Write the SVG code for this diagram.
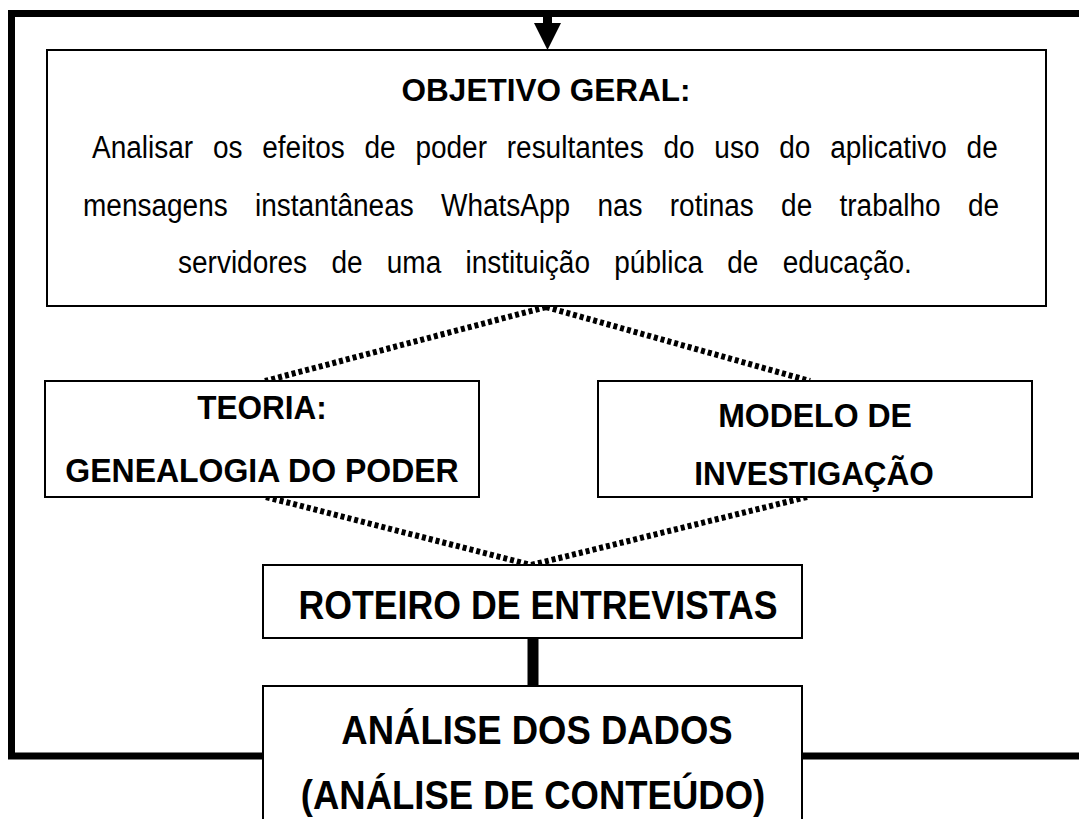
<svg xmlns="http://www.w3.org/2000/svg" width="1079" height="819" viewBox="0 0 1079 819">
<defs>
<style>
.box{fill:#fff;stroke:#000;stroke-width:2}
.b{font-family:"Liberation Sans",Arial,sans-serif;font-weight:bold;fill:#000;text-anchor:middle}
.r{font-family:"Liberation Sans",Arial,sans-serif;fill:#000;font-size:28px}
.dot{fill:none;stroke:#000;stroke-width:6;stroke-dasharray:4 3}
.thick{fill:none;stroke:#000}
</style>
</defs>
<rect width="1079" height="819" fill="#fff"/>
<g id="connectors">
<polyline class="thick" stroke-width="7" points="1079,13.5 11.5,13.5 11.5,756 1079,756"/>
<line class="thick" x1="547.5" y1="13" x2="547.5" y2="26" stroke-width="9"/>
<polygon points="534,23 561,23 547.5,50" fill="#000"/>
<line class="dot" x1="546" y1="307" x2="265" y2="381"/>
<line class="dot" x1="546" y1="307" x2="810" y2="381"/>
<line class="dot" x1="266" y1="497" x2="531" y2="565"/>
<line class="dot" x1="807" y1="497" x2="531" y2="565"/>
<line class="thick" x1="533" y1="638" x2="533" y2="686" stroke-width="11"/>
</g>
<g id="objetivo">
<rect class="box" x="47" y="50" width="999" height="256"/>
<text class="b" x="546" y="101" font-size="31.5">OBJETIVO GERAL:</text>
<text class="r" transform="translate(92,158) scale(1,1.1)" word-spacing="12">Analisar os efeitos de poder resultantes do uso do aplicativo de</text>
<text class="r" transform="translate(83,216) scale(1,1.1)" word-spacing="19.5">mensagens instantâneas WhatsApp nas rotinas de trabalho de</text>
<text class="r" transform="translate(178,273) scale(1,1.1)" word-spacing="16.5">servidores de uma instituição pública de educação.</text>
</g>
<g id="teoria">
<rect class="box" x="45" y="381" width="434" height="116"/>
<text class="b" transform="translate(262,419) scale(1,1.05)" font-size="31.5">TEORIA:</text>
<text class="b" transform="translate(262,482) scale(1,1.05)" font-size="32">GENEALOGIA DO PODER</text>
</g>
<g id="modelo">
<rect class="box" x="598" y="381" width="434" height="116"/>
<text class="b" transform="translate(815,427) scale(1,1.05)" font-size="32">MODELO DE</text>
<text class="b" transform="translate(814,485) scale(1,1.05)" font-size="31.5">INVESTIGAÇÃO</text>
</g>
<g id="roteiro">
<rect class="box" x="263" y="565" width="539" height="73"/>
<text class="b" transform="translate(538,619) scale(1,1.12)" font-size="35.7">ROTEIRO DE ENTREVISTAS</text>
</g>
<g id="analise">
<rect class="box" x="263" y="686" width="539" height="150"/>
<text class="b" transform="translate(537,744) scale(1,1.12)" font-size="36.5">ANÁLISE DOS DADOS</text>
<text class="b" transform="translate(533,809) scale(1,1.12)" font-size="36.5">(ANÁLISE DE CONTEÚDO)</text>
</g>
</svg>
